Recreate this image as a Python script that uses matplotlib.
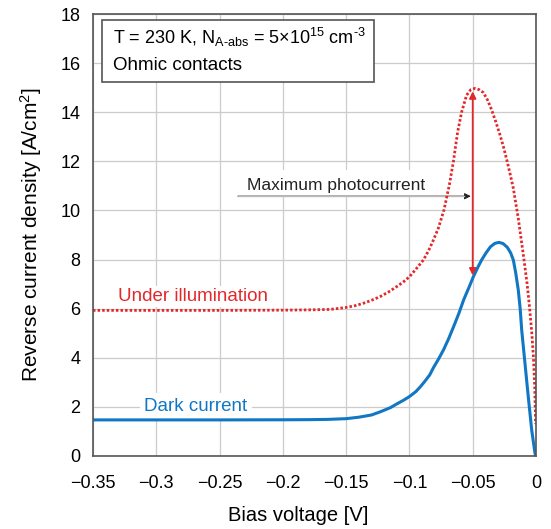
import matplotlib
matplotlib.use("Agg")
import matplotlib.pyplot as plt
from matplotlib.patches import Rectangle

plt.rcParams['font.family'] = ['Liberation Sans', 'DejaVu Sans']
plt.rcParams['mathtext.fontset'] = 'custom'
plt.rcParams['mathtext.rm'] = 'Liberation Sans'
plt.rcParams['mathtext.it'] = 'Liberation Sans'

dark_v = [-0.35, -0.30, -0.25, -0.20, -0.18, -0.165, -0.15, -0.14, -0.13, -0.123,
          -0.115, -0.11, -0.105, -0.10, -0.095, -0.0917, -0.088, -0.084, -0.081,
          -0.077, -0.073, -0.069, -0.065, -0.061, -0.057, -0.053, -0.0495, -0.046,
          -0.043, -0.0395, -0.036, -0.0325, -0.0292, -0.026, -0.0227, -0.020,
          -0.0179, -0.016, -0.014, -0.0125, -0.0113, -0.0087, -0.0061, -0.0034,
          -0.0008, 0.0]
dark_j = [1.47, 1.47, 1.47, 1.475, 1.48, 1.49, 1.52, 1.58, 1.67, 1.80,
          1.97, 2.12, 2.26, 2.42, 2.62, 2.80, 3.03, 3.30, 3.60,
          3.95, 4.33, 4.78, 5.28, 5.80, 6.38, 6.86, 7.30, 7.68,
          7.98, 8.27, 8.52, 8.66, 8.70, 8.65, 8.50, 8.27,
          7.98, 7.45, 6.76, 6.00, 5.13, 3.77, 2.41, 1.06,
          0.11, 0.0]

light_v = [-0.35, -0.30, -0.25, -0.20, -0.18, -0.1627, -0.15, -0.143, -0.1364, -0.13,
           -0.1232, -0.1165, -0.11, -0.105, -0.10, -0.095, -0.089, -0.085, -0.0816,
           -0.0772, -0.0727, -0.0685, -0.0653, -0.0619, -0.0587, -0.0548, -0.0515,
           -0.0482, -0.045, -0.0416, -0.0383, -0.035, -0.0317, -0.0284, -0.0255,
           -0.0227, -0.0203, -0.0179, -0.016, -0.014, -0.0119, -0.0095, -0.007,
           -0.005, -0.0033, -0.002, -0.001, -0.0003]
light_j = [5.93, 5.93, 5.93, 5.94, 5.95, 5.97, 6.05, 6.12, 6.22, 6.34,
           6.49, 6.68, 6.90, 7.08, 7.30, 7.60, 7.98, 8.35, 8.73,
           9.27, 10.02, 11.03, 11.98, 13.20, 14.02, 14.70, 14.92,
           14.97, 14.92, 14.80, 14.50, 14.09, 13.60, 13.07, 12.55,
           11.98, 11.45, 10.90, 10.30, 9.68, 8.90, 8.00, 7.00,
           6.00, 5.00, 4.00, 2.80, 1.30]

x_ticks = [-0.35, -0.3, -0.25, -0.2, -0.15, -0.1, -0.05, 0]
x_tick_labels = ['\u22120.35', '\u22120.3', '\u22120.25', '\u22120.2', '\u22120.15',
                 '\u22120.1', '\u22120.05', '0']
y_ticks = [0, 2, 4, 6, 8, 10, 12, 14, 16, 18]

BLUE = '#1177c4'
RED = '#e3282b'

fig = plt.figure(figsize=(5.51, 5.29), dpi=100)
ax = fig.add_axes([93/551, 1-456/529, (536-93)/551, (456-14)/529])
ax.set_xlim(-0.35, 0)
ax.set_ylim(0, 18)
ax.set_xticks(x_ticks)
ax.set_xticklabels(x_tick_labels)
ax.set_yticks(y_ticks)
ax.tick_params(axis='x', length=0, labelsize=13, pad=14)
ax.tick_params(axis='y', length=0, labelsize=13, pad=9)
ax.grid(True, color='#cccccc', lw=0.9, zorder=0)
ax.set_axisbelow(True)
for s in ax.spines.values():
    s.set_color('#555555')
    s.set_linewidth(1.2)
    s.set_zorder(5)

ax.plot(dark_v, dark_j, color=BLUE, lw=2.2, zorder=3, solid_joinstyle='round')
ax.plot(light_v, light_j, color=RED, lw=2.0, linestyle=(0, (0.9, 0.75)),
        dash_capstyle='butt', zorder=3)

ax.set_xlabel('Bias voltage [V]', fontsize=14.5)
ax.xaxis.set_label_coords((298.5-93)/443, (456-506)/442)
ax.set_ylabel('Reverse current density [A/cm$^2$]', fontsize=15)
ax.yaxis.set_label_coords((31-93)/443, 0.5)
ax.yaxis.label.set_va('center')

# red double arrow
ax.annotate('', xy=(-0.05, 14.85), xytext=(-0.05, 7.35),
            arrowprops=dict(arrowstyle='<|-|>', color=RED, lw=1.3,
                            mutation_scale=10, shrinkA=0, shrinkB=0), zorder=4)

# Maximum photocurrent label with white box and arrow
ax.add_patch(Rectangle((-0.2355, 10.58), 0.1795, 1.05, facecolor='white',
                       edgecolor='none', zorder=1))
ax.annotate('', xy=(-0.0515, 10.58), xytext=(-0.2355, 10.58),
            arrowprops=dict(arrowstyle='-|>', color='#222222', lw=0.8,
                            mutation_scale=9, shrinkA=0, shrinkB=0), zorder=2)
ax.plot([-0.2355, -0.057], [10.58, 10.58], color='#bbbbbb', lw=1.0, zorder=2)
ax.text(-0.2284, 10.85, 'Maximum photocurrent', fontsize=12.5, color='#222222',
        va='baseline', zorder=2)

ax.text(-0.3305, 6.32, 'Under illumination', fontsize=13.5, color=RED, va='baseline',
        zorder=1.5, bbox=dict(facecolor='white', edgecolor='none', pad=1.5))
ax.text(-0.3095, 1.85, 'Dark current', fontsize=13.5, color=BLUE, va='baseline',
        zorder=1.5, bbox=dict(facecolor='white', edgecolor='none', pad=3))

# info box
ax.add_patch(Rectangle((0.0194, 0.8465), 0.614, 0.1403, transform=ax.transAxes,
                       facecolor='white', edgecolor='#555555', lw=1.2, zorder=4))
ax.text(0.0445, 0.9315,
        'T = 230 K, N$_{\\mathregular{A\u2010abs}}$ = 5\u00d710$^{\\mathregular{15}}$ '
        'cm$^{\\mathregular{\u20103}}$',
        transform=ax.transAxes, fontsize=13, va='baseline', zorder=6)
ax.text(0.0445, 0.873, 'Ohmic contacts', transform=ax.transAxes, fontsize=13.5,
        va='baseline', zorder=6)

fig.savefig('out.png', dpi=100)
